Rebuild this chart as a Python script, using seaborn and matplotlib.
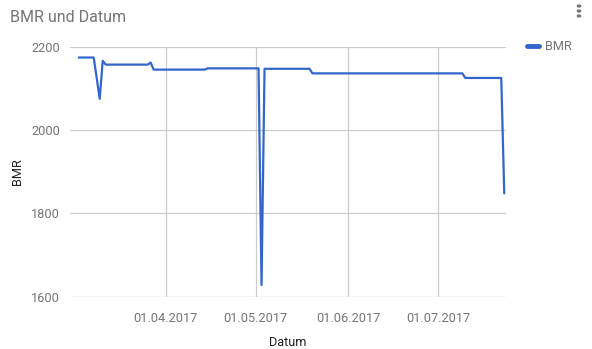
import matplotlib
matplotlib.use("Agg")
import matplotlib.pyplot as plt
import matplotlib.dates as mdates
import seaborn as sns
import pandas as pd

dates = ["2017-03-03", "2017-03-08", "2017-03-10", "2017-03-11", "2017-03-12",
         "2017-03-26", "2017-03-27", "2017-03-28", "2017-04-14", "2017-04-15",
         "2017-05-02", "2017-05-03", "2017-05-04", "2017-05-19", "2017-05-20",
         "2017-07-09", "2017-07-10", "2017-07-22", "2017-07-23"]
bmr = [2174, 2174, 2075, 2166, 2157,
       2157, 2162, 2145, 2145, 2148,
       2148, 1628, 2147, 2147, 2136,
       2136, 2125, 2125, 1848]
tick_dates = ["2017-04-01", "2017-05-01", "2017-06-01", "2017-07-01"]
y_ticks = [1600, 1800, 2000, 2200]

df = pd.DataFrame({"Datum": pd.to_datetime(dates), "BMR": bmr})

sns.set_theme(style="white")
plt.rcParams['font.family'] = ['Roboto', 'DejaVu Sans']

fig = plt.figure(figsize=(5.92, 3.49), dpi=100)
ax = fig.add_axes([70/592, 1-296.7/349, (506-70)/592, (296.7-46.7)/349])

grey = "#757575"
grid_c = "#cccccc"

ax.set_ylim(1600, 2200)
ax.set_xlim(pd.Timestamp("2017-02-28 02:00"), pd.Timestamp("2017-07-23 14:00"))
ax.set_yticks(y_ticks)
ax.set_xticks(pd.to_datetime(tick_dates))
ax.xaxis.set_major_formatter(mdates.DateFormatter("%d.%m.%Y"))

for v in y_ticks:
    ax.axhline(v, color=grid_c if v != 1600 else "#b0b0b0", lw=0.9, zorder=0)
for d in pd.to_datetime(tick_dates):
    ax.axvline(d, color=grid_c, lw=0.9, zorder=0)

sns.lineplot(data=df, x="Datum", y="BMR", ax=ax, color="#3366cc", lw=1.6,
             legend=False, zorder=3)

for s in ax.spines.values():
    s.set_visible(False)
ax.tick_params(axis="both", length=0, colors=grey, labelsize=9.2)
ax.tick_params(axis="y", pad=7)
ax.tick_params(axis="x", pad=11)
ax.set_xlabel("Datum", color="#222222", fontsize=9.2)
ax.set_ylabel("BMR", color="#222222", fontsize=9.2)
ax.xaxis.set_label_coords(0.5, (296.7-342)/250, transform=ax.transAxes)
ax.xaxis.label.set_va("center")
ax.yaxis.set_label_coords((18-70)/436, 0.5, transform=ax.transAxes)
ax.yaxis.label.set_va("center")

fig.text(10/592, 1-18/349, "BMR und Datum", color=grey, fontsize=11.5,
         ha="left", va="center")

# legend
fig.add_artist(plt.Line2D([527/592, 539/592], [1-46/349, 1-46/349],
                          color="#3366cc", lw=3.5, solid_capstyle="round"))
fig.text(545/592, 1-46/349, "BMR", color=grey, fontsize=9.2, ha="left", va="center")

# menu dots
for yy in (6, 11, 16):
    fig.add_artist(matplotlib.patches.Circle((579/592, 1-yy/349), 1.6/592,
                   transform=fig.transFigure, color=grey))

fig.savefig("out.png", dpi=100)
